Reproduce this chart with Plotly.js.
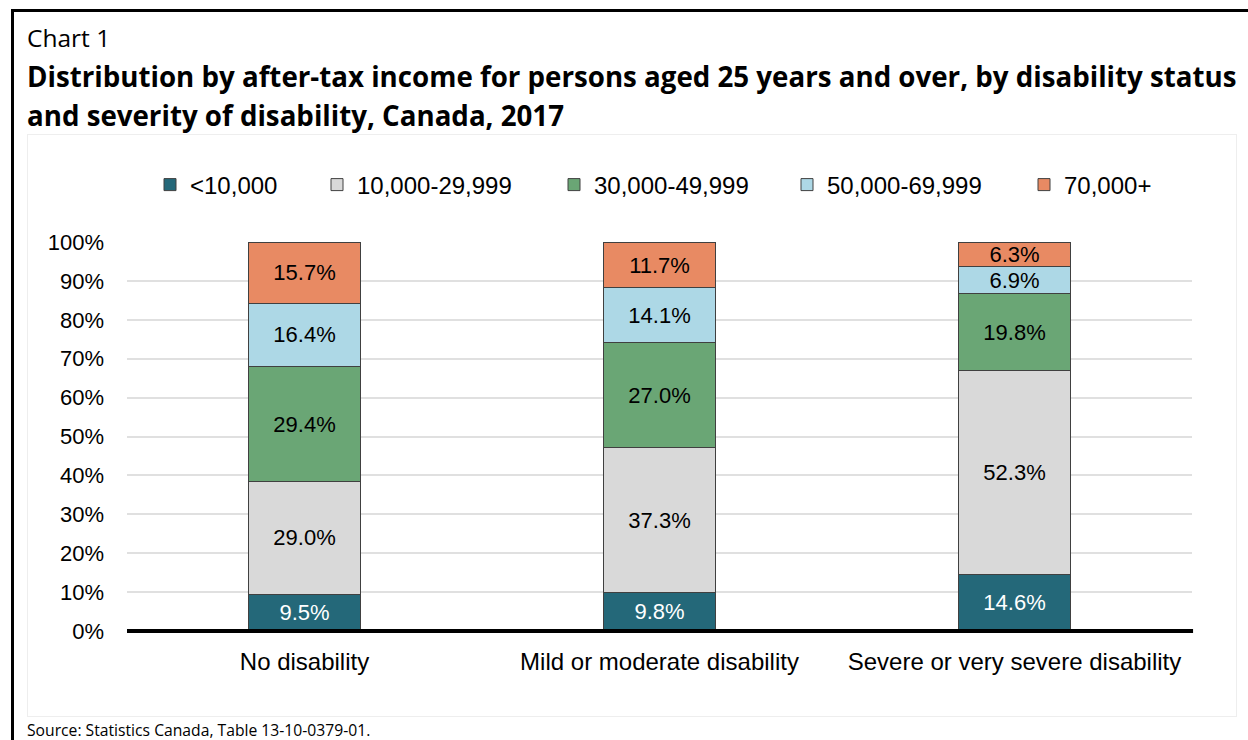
<!DOCTYPE html>
<html>
<head>
<meta charset="utf-8">
<script src="https://cdn.plot.ly/plotly-3.0.1.min.js"></script>
<style>
  html, body { margin: 0; padding: 0; background: #fff; }
  #wrap { position: relative; width: 1248px; height: 740px; overflow: hidden; }
  #frame { position: absolute; left: 11px; top: 9px; width: 1300px; height: 800px;
           border-left: 3px solid #000; border-top: 3px solid #000; pointer-events: none; }
  #inner { position: absolute; left: 27px; top: 134px; width: 1208px; height: 581px;
           border: 1px solid #eeeeee; pointer-events: none; }
  #chart { position: absolute; left: 0; top: 0; width: 1248px; height: 740px; }
</style>
</head>
<body>
<div id="wrap">
  <div id="inner"></div>
  <div id="chart"></div>
  <div id="frame"></div>
</div>
<script>
const categories = ["No disability", "Mild or moderate disability", "Severe or very severe disability"];
const seriesNames = ["<10,000", "10,000-29,999", "30,000-49,999", "50,000-69,999", "70,000+"];
const under10k   = [9.5, 9.8, 14.6];
const from10to30 = [29.0, 37.3, 52.3];
const from30to50 = [29.4, 27.0, 19.8];
const from50to70 = [16.4, 14.1, 6.9];
const over70k    = [15.7, 11.7, 6.3];
const yTickVals  = [0, 10, 20, 30, 40, 50, 60, 70, 80, 90, 100];
const yTickText  = ["0%", "10%", "20%", "30%", "40%", "50%", "60%", "70%", "80%", "90%", "100%"];

const seriesValues = [under10k, from10to30, from30to50, from50to70, over70k];
const colors = ["#246879", "#d9d9d9", "#6aa675", "#add8e6", "#e88a63"];
const textColors = ["#ffffff", "#000000", "#000000", "#000000", "#000000"];
const legendMarkerX = [168, 335, 572, 805, 1042];

const W = 1248, H = 740;
const M = { l: 127, r: 56, t: 242, b: 109 };
const pw = W - M.l - M.r, ph = H - M.t - M.b;
const px = x => (x - M.l) / pw;
const py = y => (H - M.b - y) / ph;
const FONT = "Liberation Sans, Arial, sans-serif";

const legendIds = ["legend", "legend2", "legend3", "legend4", "legend5"];

const traces = seriesNames.map((name, i) => ({
  type: "bar",
  name: name,
  legend: legendIds[i],
  x: categories,
  y: seriesValues[i],
  marker: { color: colors[i], line: { color: "#404040", width: 1 } },
  text: seriesValues[i].map(v => v.toFixed(1) + "%"),
  textposition: "inside",
  insidetextanchor: "middle",
  textfont: { family: FONT, size: 22, color: textColors[i] },
  hoverinfo: "x+y+name"
}));

const layout = {
  width: W, height: H,
  margin: M,
  paper_bgcolor: "rgba(0,0,0,0)",
  plot_bgcolor: "rgba(0,0,0,0)",
  barmode: "stack",
  bargap: 0.687,
  showlegend: true,
  uniformtext: { minsize: 22, mode: "show" },
  font: { family: FONT, size: 22, color: "#000" },
  xaxis: {
    type: "category",
    range: [-0.5, 2.5],
    showgrid: false,
    showline: false,
    zeroline: false,
    ticks: "",
    ticklabelstandoff: 14,
    tickfont: { family: FONT, size: 24, color: "#000" },
    fixedrange: true
  },
  yaxis: {
    range: [0, 100],
    tickvals: yTickVals,
    ticktext: yTickText,
    showgrid: true,
    gridcolor: "#e0e0e0",
    gridwidth: 1.5,
    zeroline: false,
    showline: false,
    ticks: "",
    ticklabelstandoff: 22,
    tickfont: { family: FONT, size: 22, color: "#000" },
    fixedrange: true
  },
  shapes: [
    { type: "line", xref: "paper", yref: "paper", x0: 0, x1: 1.001, y0: 0, y1: 0,
      line: { color: "#000", width: 4 }, layer: "above" }
  ],
  annotations: [
    { text: "Chart 1", xref: "paper", yref: "paper", x: px(25), y: py(38),
      xanchor: "left", yanchor: "middle", showarrow: false,
      font: { family: "Open Sans, sans-serif", size: 24.5, color: "#000" } },
    { text: "<b>Distribution by after-tax income for persons aged 25 years and over, by disability status</b>",
      xref: "paper", yref: "paper", x: px(25), y: py(76),
      xanchor: "left", yanchor: "middle", showarrow: false,
      font: { family: "Open Sans, sans-serif", size: 27.7, color: "#000" } },
    { text: "<b>and severity of disability, Canada, 2017</b>",
      xref: "paper", yref: "paper", x: px(25), y: py(115),
      xanchor: "left", yanchor: "middle", showarrow: false,
      font: { family: "Open Sans, sans-serif", size: 27.7, color: "#000" } },
    { text: "Source: Statistics Canada, Table 13-10-0379-01.",
      xref: "paper", yref: "paper", x: px(25), y: py(730),
      xanchor: "left", yanchor: "middle", showarrow: false,
      font: { family: "Open Sans, sans-serif", size: 15.7, color: "#000" } }
  ]
};

legendIds.forEach((id, i) => {
  layout[id] = {
    orientation: "h",
    x: px(legendMarkerX[i] - 18), xanchor: "left",
    y: py(185), yanchor: "middle",
    bgcolor: "rgba(0,0,0,0)",
    font: { family: FONT, size: 24, color: "#000" },
    itemwidth: 30
  };
});

Plotly.newPlot("chart", traces, layout, { displayModeBar: false });
</script>
</body>
</html>
